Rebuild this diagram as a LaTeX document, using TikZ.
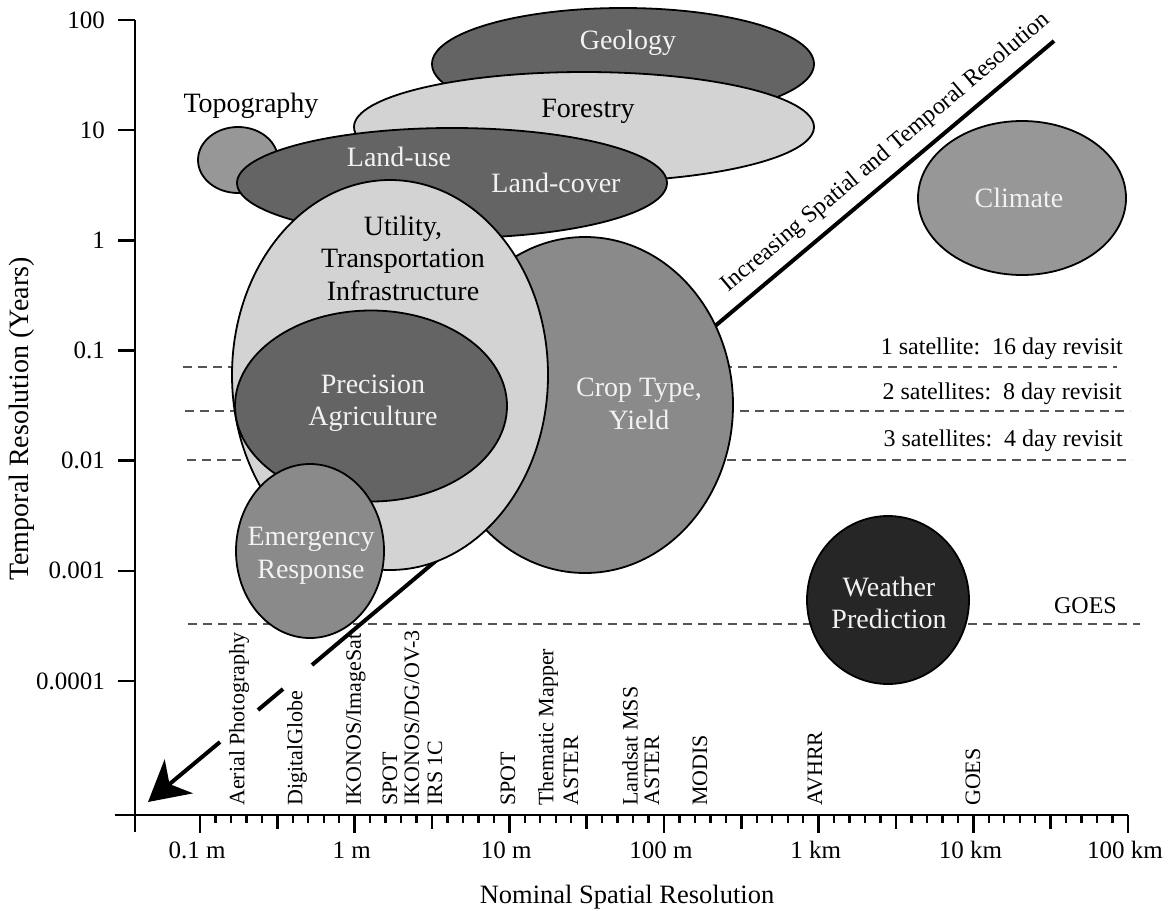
\documentclass[tikz,border=0pt]{standalone}
\usepackage{fontspec}
\setmainfont{Liberation Serif}
\usetikzlibrary{arrows.meta,shapes.geometric}
\definecolor{darkfill}{HTML}{646464}
\definecolor{lightfill}{HTML}{D3D3D3}
\definecolor{midfill}{HTML}{979797}
\definecolor{cropfill}{HTML}{8A8A8A}
\definecolor{blackfill}{HTML}{262626}
\definecolor{lwhite}{HTML}{F2F2F2}
\definecolor{dashgray}{HTML}{555555}
\begin{document}
\begin{tikzpicture}[x=1pt,y=-1pt,
  blob/.style={draw=black,line width=1.8pt,ellipse,inner sep=0pt,outer sep=0pt},
  axisline/.style={line width=2.4pt,black},
  revline/.style={draw=dashgray,line width=2pt,dash pattern=on 9pt off 6pt},
  trendline/.style={line width=4pt,black},
  wlab/.style={text=lwhite,font=\fontsize{28}{32.5}\selectfont,align=center,inner sep=0pt},
  blab/.style={text=black,font=\fontsize{28}{32.5}\selectfont,align=center,inner sep=0pt},
  sensor/.style={rotate=90,anchor=west,inner sep=0pt,font=\fontsize{22}{26}\selectfont},
  tlab/.style={inner sep=0pt,font=\fontsize{25}{30}\selectfont},
  rlab/.style={anchor=east,inner sep=0pt,font=\fontsize{24}{28}\selectfont},
]
\useasboundingbox (0,0) rectangle (1169,910);
\fill[white] (0,0) rectangle (1169,910);

% revisit dashed lines
\coordinate (r1a) at (183,367); \coordinate (r1b) at (1117,367);
\coordinate (r2a) at (185,411); \coordinate (r2b) at (1130,411);
\coordinate (r3a) at (187,460); \coordinate (r3b) at (1132,460);
\coordinate (r4a) at (188,624); \coordinate (r4b) at (1140,624);
\draw[revline] (r1a) -- (r1b);
\draw[revline] (r2a) -- (r2b);
\draw[revline] (r3a) -- (r3b);
\draw[revline] (r4a) -- (r4b);

% trend line
\coordinate (T) at (148,802);
\coordinate (A) at (220,742);
\coordinate (B) at (258,710);
\coordinate (C) at (283,689);
\coordinate (D) at (312,665);
\coordinate (E) at (1054,41);
\draw[trendline] (D) -- (E);
\draw[trendline] (B) -- (C);
\draw[trendline,-{Stealth[length=40pt,width=44pt,inset=12pt]}] (A) -- (T);

% ellipses
\node[blob,fill=darkfill,minimum width=382pt,minimum height=112pt] (geo) at (623,64) {};
\node[blob,fill=lightfill,minimum width=460pt,minimum height=110pt] (for) at (584,127) {};
\node[blob,fill=midfill,minimum width=80pt,minimum height=66pt] (topo) at (238,160) {};
\node[blob,fill=darkfill,minimum width=430pt,minimum height=110pt] (land) at (452,183) {};
\node[blob,fill=cropfill,minimum width=296pt,minimum height=336pt] (crop) at (585,405) {};
\node[blob,fill=lightfill,minimum width=316pt,minimum height=390pt] (util) at (390,375) {};
\node[blob,fill=darkfill,minimum width=272pt,minimum height=191pt] (prec) at (371,406) {};
\node[blob,fill=cropfill,minimum width=148pt,minimum height=174pt] (emer) at (310,551) {};
\node[blob,fill=midfill,minimum width=208pt,minimum height=154pt] (clim) at (1022,198) {};
\node[blob,fill=blackfill,minimum width=162pt,minimum height=168pt] (wea) at (888,600) {};

% ellipse labels
\node[wlab] (geoL) at (628,43) {Geology};
\node[blab] (forL) at (588,111) {Forestry};
\node[blab] (topoL) at (251,106) {Topography};
\node[wlab] (luL) at (399,157) {Land-use};
\node[wlab] (lcL) at (556,183) {Land-cover};
\node[blab] (utilL) at (403,258) {Utility,\\Transportation\\Infrastructure};
\node[wlab] (precL) at (373,403) {Precision\\Agriculture};
\node[wlab] (cropL) at (639,404) {Crop Type,\\Yield};
\node[wlab] (emerL) at (311,556) {Emergency\\Response};
\node[wlab] (climL) at (1019,198) {Climate};
\node[wlab] (weaL) at (889,603) {Weather\\Prediction};

% trend label
\node[inner sep=0pt,rotate=40.06,font=\fontsize{24}{28}\selectfont] (trendL) at (886,153) {Increasing Spatial and Temporal Resolution};

% revisit labels
\node[rlab] (s1) at (1123,349) {1 satellite:~~16 day revisit};
\node[rlab] (s2) at (1122,394) {2 satellites:~~8 day revisit};
\node[rlab] (s3) at (1123,441) {3 satellites:~~4 day revisit};
\node[rlab] (sg) at (1117,606) {GOES};

% axes
\draw[axisline] (135,20) -- (135,832);
\draw[axisline] (115,815) -- (1128,815);
\foreach \j/\lab in {0/100,1/10,2/1,3/0.1,4/0.01,5/0.001,6/0.0001}{
  \pgfmathsetmacro\yy{20+\j*110.17}
  \draw[axisline] (118,\yy) -- (135,\yy);
  \node[tlab,anchor=east] (yl\j) at (105,\yy) {\lab};
}
\foreach \i in {0,...,60}{
  \pgfmathsetmacro\xx{200+\i*15.4667}
  \pgfmathsetmacro\len{ifthenelse(mod(\i,10)==0,18,ifthenelse(mod(\i,5)==0,14,8))}
  \draw[axisline] (\xx,815) -- ++(0,\len);
}
\foreach \k/\lab in {0/0.1 m,1/1 m,2/10 m,3/100 m,4/1 km,5/10 km,6/100 km}{
  \pgfmathsetmacro\xx{200+\k*154.667-3}
  \node[tlab] (xl\k) at (\xx,850) {\lab};
}

% sensor labels
\node[sensor] (n1) at (239,806) {Aerial Photography};
\node[sensor] (n2) at (297,806) {DigitalGlobe};
\node[sensor] (n3) at (356,806) {IKONOS/ImageSat};
\node[sensor] (n4) at (390,806) {SPOT};
\node[sensor] (n5) at (412,806) {IKONOS/DG/OV-3};
\node[sensor] (n6) at (435,806) {IRS 1C};
\node[sensor] (n7) at (508,806) {SPOT};
\node[sensor] (n8) at (548,806) {Thematic Mapper};
\node[sensor] (n9) at (571,806) {ASTER};
\node[sensor] (n10) at (630,806) {Landsat MSS};
\node[sensor] (n11) at (652,806) {ASTER};
\node[sensor] (n12) at (700,806) {MODIS};
\node[sensor] (n13) at (815,806) {AVHRR};
\node[sensor] (n14) at (973,806) {GOES};

% axis titles
\node[inner sep=0pt,font=\fontsize{26.5}{30}\selectfont] (xt) at (627,897) {Nominal Spatial Resolution};
\node[inner sep=0pt,rotate=90,font=\fontsize{28}{32}\selectfont] (yt) at (22,419) {Temporal Resolution (Years)};
\end{tikzpicture}
\end{document}
